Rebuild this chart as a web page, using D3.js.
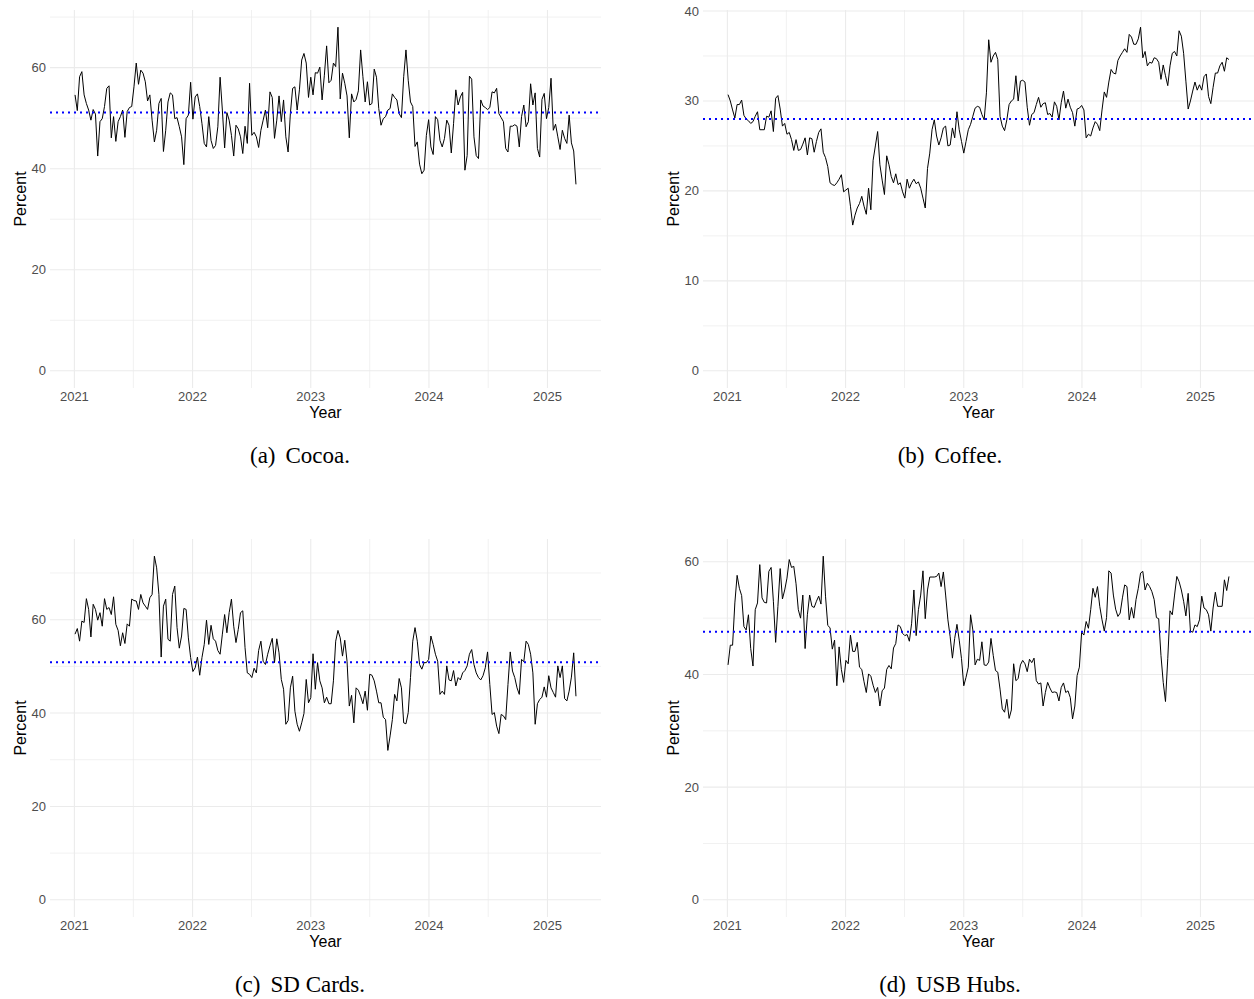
<!DOCTYPE html>
<html>
<head>
<meta charset="utf-8">
<script src="https://cdnjs.cloudflare.com/ajax/libs/d3/7.8.5/d3.min.js"></script>
<style>
  body { margin: 0; background: #fff; }
  svg { display: block; }
</style>
</head>
<body>
<svg width="1254" height="999"></svg>
<script>
// Weekly values, first week starts on 2021-01-03
var startDate = new Date(Date.UTC(2021, 0, 3));

var cocoa = [
  54.6, 51.5, 58.2, 59.2, 54.6, 52.9, 51.6, 49.6, 51.7, 50.8,
  42.5, 49.3, 49.9, 52.3, 55.9, 56.4, 46.1, 50.3, 45.4, 49.3,
  50.3, 51.6, 46.2, 51.3, 52.1, 52.3, 56.2, 60.9, 56.7, 59.5,
  58.9, 57.2, 53.4, 54.6, 49.6, 45.3, 47.6, 52.9, 53.9, 43.4,
  47.6, 53.2, 55.0, 54.6, 49.9, 50.1, 48.3, 46.3, 40.8, 49.9,
  50.6, 57.1, 49.8, 54.2, 54.8, 52.3, 48.9, 45.0, 44.3, 50.3,
  45.6, 44.0, 44.6, 48.3, 58.1, 51.6, 44.1, 51.1, 49.6, 46.6,
  42.5, 48.6, 47.9, 46.3, 43.0,
  48.4, 45.0, 56.9, 46.6, 47.2, 46.3, 44.2, 47.6, 49.6, 51.6,
  48.1, 55.2, 54.1, 46.0, 49.6, 54.4, 49.3, 53.6, 46.3, 43.3,
  50.9, 55.9, 56.2, 51.6, 55.6, 61.5, 62.8, 60.9, 54.1, 58.1,
  54.6, 59.0, 58.9, 60.1, 53.6, 58.5, 64.3, 57.0, 57.5, 60.9,
  60.2, 68.0, 53.8, 58.9, 56.9, 54.4, 46.1, 54.8, 53.2, 53.7,
  55.4, 63.5, 58.2, 53.2, 57.2, 52.6, 52.9, 59.7, 58.1, 51.9,
  48.6, 49.9, 50.3, 51.6, 51.9, 54.8, 54.1, 53.6, 50.9, 50.1,
  58.2, 63.5, 57.5, 53.2, 52.3, 44.4, 45.3, 40.9, 39.0, 39.7,
  46.6, 49.7, 44.3, 42.8, 50.3, 49.7, 45.6, 44.3, 46.0, 49.6,
  48.6, 43.1, 48.9, 55.6, 52.6, 54.2, 55.1, 39.7, 42.6, 58.3,
  57.7, 46.3, 42.6, 42.0, 53.6, 52.4, 52.1, 51.7, 52.1, 55.2,
  55.0, 55.9, 50.9, 50.1, 49.3, 44.0, 43.3, 48.4, 48.4, 48.7,
  48.4, 44.3, 50.3, 52.6, 48.3, 49.3, 56.8, 52.6, 55.0, 44.0,
  42.3, 53.7, 54.9, 49.9, 52.1, 57.9, 47.6, 48.8, 46.3, 43.8,
  47.6, 46.0, 45.0, 50.6, 45.1, 43.5, 36.9
];

var coffee = [
  30.7, 30.0, 29.0, 28.1, 29.6, 29.6, 30.1, 28.4, 28.0, 27.8,
  27.5, 27.7, 28.3, 28.8, 26.8, 26.8, 26.8, 28.3, 28.2, 28.9,
  26.6, 30.3, 30.6, 29.1, 27.2, 27.5, 26.3, 26.5, 25.7, 24.5,
  25.7, 24.5, 24.6, 25.2, 25.9, 24.0, 25.9, 25.8, 24.3, 25.5,
  26.5, 26.9, 24.3, 23.7, 22.7, 20.9, 20.7, 20.6, 20.9, 21.3,
  21.8, 19.9, 20.1, 20.3, 18.3, 16.2, 17.3, 18.1, 18.6, 19.4,
  18.3, 17.4, 20.3, 17.9, 23.4, 25.0, 26.6, 22.9, 21.2, 19.6,
  23.9, 22.9, 21.6, 20.9,
  21.9, 20.7, 20.9, 19.9, 19.2, 21.3, 20.3, 20.9, 21.3, 20.8,
  21.0, 20.3, 19.2, 18.1, 22.5, 24.2, 26.8, 27.9, 26.1, 25.1,
  25.9, 27.0, 27.2, 25.0, 25.1, 27.0, 25.9, 28.8, 26.8, 25.5,
  24.2, 25.5, 26.8, 27.4, 28.3, 29.2, 29.4, 29.3, 28.5, 27.9,
  30.9, 36.8, 34.3, 35.0, 35.4, 34.6, 28.3, 27.2, 26.7, 27.9,
  29.6, 30.0, 30.2, 32.8, 30.0, 32.2, 32.3, 32.1, 29.3, 27.3,
  28.5, 28.7, 29.6, 30.4, 29.3, 29.7, 29.8, 28.5, 28.6, 28.2,
  29.9, 29.4, 27.9, 29.8, 31.1, 29.2, 30.2, 29.3,
  28.7, 27.2, 29.1, 29.2, 29.5, 29.0, 25.9, 26.3, 26.1, 27.0,
  27.7, 27.4, 26.7, 29.0, 31.0, 30.4, 32.1, 33.5, 33.1, 33.0,
  34.5, 35.0, 35.4, 35.8, 35.4, 37.4, 37.1, 36.3, 36.3, 36.9,
  38.2, 34.8, 35.5, 33.9, 34.3, 34.2, 34.8, 34.7, 34.3, 32.4,
  34.0, 32.8, 31.7, 33.9, 35.3, 35.5, 35.0, 37.8, 37.2, 35.3,
  32.2, 29.1, 30.0, 31.1, 32.1, 31.2, 31.8, 31.2, 32.7, 33.0,
  30.5, 29.7, 31.5, 33.1, 33.1, 33.9, 34.3, 33.3, 34.8, 34.6
];

var sdCards = [
  56.9, 58.1, 55.4, 59.7, 59.4, 64.5, 62.2, 56.3, 63.3, 62.2,
  59.9, 61.5, 58.6, 64.5, 62.2, 62.6, 61.1, 64.9, 59.0, 57.7,
  54.4, 57.2, 54.9, 59.1, 58.6, 64.4, 64.1, 64.0, 62.2, 65.4,
  63.6, 62.9, 62.2, 64.7, 65.4, 73.6, 71.1, 65.4, 52.0, 62.9,
  64.4, 55.8, 55.4, 65.4, 67.2, 58.3, 53.9, 56.5, 62.4, 62.2,
  56.1, 51.9, 48.9, 49.7, 52.0, 48.1, 51.9, 54.7, 59.9, 54.7,
  58.8, 55.9, 55.4, 53.4, 52.6, 56.9, 61.1, 57.2, 61.5, 64.4,
  58.6, 55.1, 57.9, 61.5, 61.9,
  54.0, 48.6, 48.3, 47.6, 49.6, 48.6, 53.4, 55.4, 51.1, 50.4,
  52.6, 54.4, 56.0, 50.8, 55.9, 52.9, 47.2, 45.1, 37.6, 38.4,
  45.4, 47.9, 40.4, 37.6, 36.1, 37.9, 39.9, 47.2, 42.2, 43.3,
  52.7, 45.1, 50.8, 46.9, 45.4, 42.2, 43.4, 42.0, 42.0, 46.9,
  55.4, 57.7, 56.1, 52.2, 55.6, 51.1, 41.5, 43.8, 37.9, 45.4,
  44.9, 43.6, 42.0, 44.7, 40.6, 48.3, 48.1, 46.9, 44.7, 42.2,
  42.2, 39.1, 38.6, 32.0, 35.1, 38.6, 44.0, 42.6, 47.4, 45.4,
  37.9, 37.7, 40.1, 47.6, 55.4, 58.3, 55.4, 50.4, 49.4, 50.8,
  50.8, 51.5, 56.5, 54.7, 52.6, 51.1, 44.0, 44.7, 44.0, 50.1,
  47.1, 46.9, 49.1, 45.8, 47.6, 47.1, 48.6, 49.1, 50.1, 52.6,
  53.6, 50.4, 48.6, 47.6, 47.1, 48.0, 49.7, 53.1, 46.1, 39.7,
  40.1, 37.2, 35.6, 39.7, 39.4, 38.6, 46.1, 53.1, 49.0, 47.6,
  45.4, 44.0, 51.5, 51.0, 55.4, 54.7, 52.6, 48.6, 37.6, 42.0,
  42.9, 43.4, 45.6, 43.4, 48.0, 45.4, 44.4, 43.4, 50.1, 47.6,
  50.1, 43.1, 42.6, 44.7, 47.7, 52.9, 43.6
];

var usbHubs = [
  41.7, 45.2, 45.2, 52.7, 57.6, 55.3, 54.0, 48.5, 47.9, 50.6,
  44.6, 41.5, 51.5, 52.7, 59.5, 53.6, 52.8, 52.7, 58.3, 59.0,
  53.0, 45.7, 52.1, 58.8, 53.4, 55.0, 57.1, 60.4, 59.0, 59.2,
  56.1, 51.5, 50.0, 54.1, 44.6, 50.6, 54.1, 52.1, 51.9, 53.0,
  53.9, 52.5, 61.0, 53.9, 48.7, 48.3, 44.5, 46.1, 38.0, 44.9,
  40.9, 38.6, 42.5, 41.9, 47.0, 44.1, 44.1, 45.7, 41.3, 40.9,
  38.7, 36.8, 40.1, 39.7, 38.1, 36.8, 37.7, 34.4, 37.1, 37.6,
  40.9, 41.6, 41.0, 44.7,
  45.5, 48.8, 48.5, 47.3, 46.9, 47.1, 45.9, 49.1, 55.0, 46.9,
  51.5, 54.1, 58.4, 49.9, 55.0, 57.3, 57.3, 57.3, 57.4, 58.0,
  55.6, 58.2, 54.1, 49.7, 46.7, 42.9, 46.4, 48.9, 46.1, 42.8,
  38.0, 39.5, 41.3, 50.6, 47.9, 41.7, 42.7, 42.5, 45.8, 41.7,
  41.6, 42.2, 46.4, 43.4, 40.7, 40.4, 37.4, 33.9, 33.3, 35.6,
  32.2, 33.7, 41.9, 38.9, 39.3, 41.7, 42.5, 41.9, 40.5, 42.7,
  42.1, 42.9, 38.9, 38.3, 38.5, 34.4, 36.8, 38.6, 37.6, 36.8,
  36.9, 36.8, 35.3, 37.7, 38.5, 36.8, 37.1, 35.9,
  32.1, 34.4, 39.8, 41.3, 47.5, 47.0, 49.4, 48.2, 51.5, 55.3,
  53.7, 55.6, 52.1, 49.7, 47.7, 50.1, 58.4, 58.0, 54.1, 51.6,
  50.3, 50.9, 53.6, 55.9, 55.6, 49.7, 51.9, 50.0, 53.3, 55.3,
  58.0, 58.3, 55.0, 56.2, 55.6, 54.7, 53.3, 50.1, 49.9, 43.4,
  38.6, 35.2, 42.8, 51.3, 50.6, 54.1, 57.4, 56.5, 55.0, 53.0,
  50.4, 54.4, 47.7, 47.5, 48.8, 48.5, 49.7, 53.9, 51.8, 51.5,
  50.6, 47.7, 51.8, 54.6, 52.1, 52.1, 52.1, 56.8, 54.9, 57.4
];

// Dotted reference level of each panel
var means = [51.1, 28.0, 50.9, 47.6];

var labels = ["(a)", "(b)", "(c)", "(d)"];
var names = ["Cocoa.", "Coffee.", "SD Cards.", "USB Hubs."];

var yTicks = [
  [0, 20, 40, 60],
  [0, 10, 20, 30, 40],
  [0, 20, 40, 60],
  [0, 20, 40, 60]
];
var xYears = [2021, 2022, 2023, 2024, 2025];

var svg = d3.select("svg");

svg.append("rect")
  .attr("width", 1254)
  .attr("height", 999)
  .attr("fill", "#fff");

var plotW = 551,
  plotH = 378;

var panels = [
  { values: cocoa, left: 50, top: 10, capX: 300 },
  { values: coffee, left: 703, top: 10, capX: 950 },
  { values: sdCards, left: 50, top: 539, capX: 300 },
  { values: usbHubs, left: 703, top: 539, capX: 950 }
];

panels.forEach(function (p, k) {
  var data = p.values.map(function (v, i) {
    return { date: d3.utcDay.offset(startDate, 7 * i), value: v };
  });

  // ggplot style 5% expansion on both axes
  var t0 = data[0].date.getTime(),
    t1 = data[data.length - 1].date.getTime(),
    pad = (t1 - t0) * 0.05;
  var x = d3
    .scaleUtc()
    .domain([new Date(t0 - pad), new Date(t1 + pad)])
    .range([0, plotW]);

  var maxV = d3.max(p.values);
  var y = d3
    .scaleLinear()
    .domain([-0.05 * maxV, 1.05 * maxV])
    .range([plotH, 0]);

  var g = svg
    .append("g")
    .attr("transform", "translate(" + p.left + "," + p.top + ")");

  // minor grid
  var ticks = yTicks[k];
  var step = ticks[1] - ticks[0];
  var yMinor = [];
  for (var m = ticks[0] - step / 2; m < y.domain()[1]; m += step) {
    if (m > y.domain()[0]) yMinor.push(m);
  }
  var xMinor = d3
    .range(2020, 2026)
    .map(function (yr) {
      return new Date(Date.UTC(yr, 6, 2));
    })
    .filter(function (d) {
      return d > x.domain()[0] && d < x.domain()[1];
    });

  g.selectAll(".ymin")
    .data(yMinor)
    .enter()
    .append("line")
    .attr("x1", 0)
    .attr("x2", plotW)
    .attr("y1", (d) => y(d))
    .attr("y2", (d) => y(d))
    .attr("stroke", "#ebebeb")
    .attr("stroke-width", 0.7);

  g.selectAll(".xmin")
    .data(xMinor)
    .enter()
    .append("line")
    .attr("x1", (d) => x(d))
    .attr("x2", (d) => x(d))
    .attr("y1", 0)
    .attr("y2", plotH)
    .attr("stroke", "#ebebeb")
    .attr("stroke-width", 0.7);

  // major grid
  g.selectAll(".ymaj")
    .data(ticks)
    .enter()
    .append("line")
    .attr("x1", 0)
    .attr("x2", plotW)
    .attr("y1", (d) => y(d))
    .attr("y2", (d) => y(d))
    .attr("stroke", "#ebebeb")
    .attr("stroke-width", 1.1);

  g.selectAll(".xmaj")
    .data(xYears)
    .enter()
    .append("line")
    .attr("x1", (d) => x(new Date(Date.UTC(d, 0, 1))))
    .attr("x2", (d) => x(new Date(Date.UTC(d, 0, 1))))
    .attr("y1", 0)
    .attr("y2", plotH)
    .attr("stroke", "#ebebeb")
    .attr("stroke-width", 1.1);

  // tick labels
  g.selectAll(".ylab")
    .data(ticks)
    .enter()
    .append("text")
    .attr("x", -4)
    .attr("y", (d) => y(d))
    .attr("dy", "0.35em")
    .attr("text-anchor", "end")
    .attr("font-family", "Liberation Sans, Arial, sans-serif")
    .attr("font-size", 13)
    .attr("fill", "#4d4d4d")
    .text((d) => d);

  g.selectAll(".xlab")
    .data(xYears)
    .enter()
    .append("text")
    .attr("x", (d) => x(new Date(Date.UTC(d, 0, 1))))
    .attr("y", plotH + 13)
    .attr("text-anchor", "middle")
    .attr("font-family", "Liberation Sans, Arial, sans-serif")
    .attr("font-size", 13)
    .attr("fill", "#4d4d4d")
    .text((d) => d);

  // axis titles
  g.append("text")
    .attr("x", plotW / 2)
    .attr("y", plotH + 30)
    .attr("text-anchor", "middle")
    .attr("font-family", "Liberation Sans, Arial, sans-serif")
    .attr("font-size", 16)
    .attr("fill", "#000")
    .text("Year");

  g.append("text")
    .attr("transform", "translate(-24," + plotH / 2 + ") rotate(-90)")
    .attr("text-anchor", "middle")
    .attr("font-family", "Liberation Sans, Arial, sans-serif")
    .attr("font-size", 16)
    .attr("fill", "#000")
    .text("Percent");

  // the series
  var line = d3
    .line()
    .x((d) => x(d.date))
    .y((d) => y(d.value));

  g.append("path")
    .datum(data)
    .attr("d", line)
    .attr("fill", "none")
    .attr("stroke", "#000")
    .attr("stroke-width", 1)
    .attr("stroke-linejoin", "round");

  // dotted mean line
  g.append("line")
    .attr("x1", 0)
    .attr("x2", plotW)
    .attr("y1", y(means[k]))
    .attr("y2", y(means[k]))
    .attr("stroke", "#0000ff")
    .attr("stroke-width", 2)
    .attr("stroke-dasharray", "2,4");

  // sub caption
  var cap = svg
    .append("text")
    .attr("x", p.capX)
    .attr("y", p.top + 453)
    .attr("text-anchor", "middle")
    .attr("font-family", "Liberation Serif, Times New Roman, serif")
    .attr("font-size", 23)
    .attr("fill", "#000");
  cap.append("tspan").text(labels[k]);
  cap.append("tspan").attr("dx", 10).text(names[k]);
});
</script>
</body>
</html>
